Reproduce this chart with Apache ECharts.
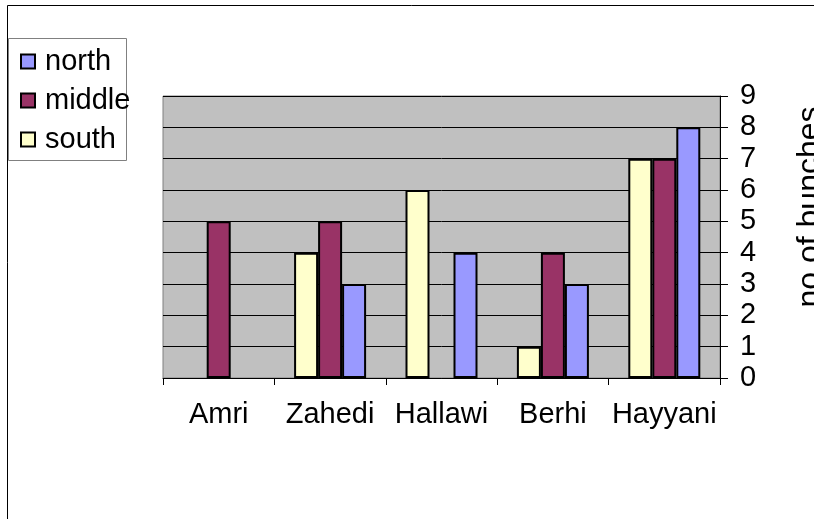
<!DOCTYPE html>
<html>
<head>
<meta charset="utf-8">
<script src="https://cdn.jsdelivr.net/npm/echarts@6/dist/echarts.min.js"></script>
<style>
html,body{margin:0;padding:0;background:#fff;}
#main{width:814px;height:519px;}
</style>
</head>
<body>
<div id="main"></div>
<script>
var categories = ['Amri', 'Zahedi', 'Hallawi', 'Berhi', 'Hayyani'];
// null = no bar drawn for that region
var south = [null, 4, 6, 1, 7];
var middle = [5, 5, null, 4, 7];
var north = [null, 3, 4, 3, 8];
var legendNames = ['north', 'middle', 'south'];

var myChart = echarts.init(document.getElementById('main'));
var font = 'Liberation Sans, Arial, sans-serif';
var fs = 29;

function barSeries(name, data, color) {
    return {
        name: name,
        type: 'bar',
        data: data,
        barWidth: 24,
        barGap: '0%',
        itemStyle: { color: color, borderColor: '#000', borderWidth: 2 }
    };
}

var option = {
    animation: false,
    backgroundColor: '#fff',
    graphic: [
        // outer chart frame
        { type: 'rect', shape: { x: 7.5, y: 5.5, width: 820, height: 530 },
          style: { fill: 'none', stroke: '#000', lineWidth: 1 }, z: 0 },
        // legend box
        { type: 'rect', shape: { x: 8.5, y: 38.5, width: 118, height: 122 },
          style: { fill: '#fff', stroke: '#808080', lineWidth: 1 }, z: 0 }
    ],
    legend: {
        orient: 'vertical',
        left: 15,
        top: 42,
        itemGap: 10,
        itemWidth: 14,
        itemHeight: 14,
        icon: 'rect',
        data: legendNames,
        textStyle: { fontFamily: font, fontSize: fs, color: '#000', padding: [0, 0, 0, 5] },
        itemStyle: { borderColor: '#000', borderWidth: 2 },
        z: 10
    },
    grid: {
        left: 163,
        top: 96,
        width: 557,
        height: 282,
        outerBoundsMode: 'none',
        containLabel: false,
        show: true,
        backgroundColor: '#C0C0C0',
        borderColor: '#808080',
        borderWidth: 1
    },
    xAxis: {
        type: 'category',
        data: categories,
        axisLine: { show: true, lineStyle: { color: '#000' } },
        axisTick: { show: true, length: 7, lineStyle: { color: '#000' } },
        axisLabel: { fontFamily: font, fontSize: fs, color: '#000', margin: 22, interval: 0 }
    },
    yAxis: {
        type: 'value',
        position: 'right',
        min: 0,
        max: 9,
        interval: 1,
        name: 'no of bunches',
        nameLocation: 'middle',
        nameRotate: 90,
        nameGap: 74,
        nameTextStyle: { fontFamily: font, fontSize: 32, color: '#000', padding: [0, 0, 0, 60] },
        axisLine: { show: true, lineStyle: { color: '#000' } },
        axisTick: { show: true, length: 8, lineStyle: { color: '#000' } },
        axisLabel: { fontFamily: font, fontSize: fs, color: '#000', margin: 20 },
        splitLine: { show: true, lineStyle: { color: '#000', width: 1 } }
    },
    series: [
        barSeries('south', south, '#FFFFCC'),
        barSeries('middle', middle, '#993366'),
        barSeries('north', north, '#9999FF')
    ]
};

myChart.setOption(option);
</script>
</body>
</html>
